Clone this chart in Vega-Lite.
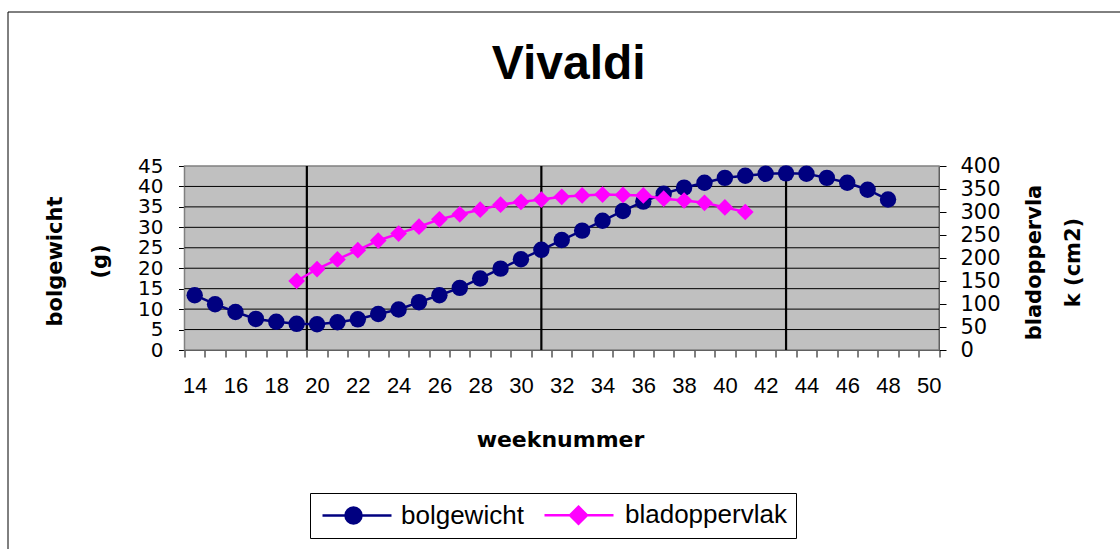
{
  "$schema": "https://vega.github.io/schema/vega-lite/v6.json",
  "width": 754.5,
  "height": 184,
  "autosize": {"type": "none"},
  "padding": {"left": 184.5, "top": 166, "right": 181, "bottom": 199},
  "background": "white",
  "config": {"view": {"stroke": null}, "font": "Liberation Sans"},
  "title": {"text": "Vivaldi", "font": "Liberation Sans", "fontSize": 48, "fontWeight": "bold", "color": "black", "anchor": "middle", "offset": -116, "baseline": "alphabetic", "dx": 7},
  "datasets": {
    "bolg": [
      {"week": 14, "gewicht": 13.4}, {"week": 15, "gewicht": 11.2}, {"week": 16, "gewicht": 9.3},
      {"week": 17, "gewicht": 7.6}, {"week": 18, "gewicht": 6.9}, {"week": 19, "gewicht": 6.4},
      {"week": 20, "gewicht": 6.3}, {"week": 21, "gewicht": 6.8}, {"week": 22, "gewicht": 7.5},
      {"week": 23, "gewicht": 8.8}, {"week": 24, "gewicht": 9.9}, {"week": 25, "gewicht": 11.7},
      {"week": 26, "gewicht": 13.4}, {"week": 27, "gewicht": 15.2}, {"week": 28, "gewicht": 17.5},
      {"week": 29, "gewicht": 19.9}, {"week": 30, "gewicht": 22.2}, {"week": 31, "gewicht": 24.5},
      {"week": 32, "gewicht": 26.9}, {"week": 33, "gewicht": 29.2}, {"week": 34, "gewicht": 31.6},
      {"week": 35, "gewicht": 34.0}, {"week": 36, "gewicht": 36.3}, {"week": 37, "gewicht": 38.2},
      {"week": 38, "gewicht": 39.7}, {"week": 39, "gewicht": 40.9}, {"week": 40, "gewicht": 42.1},
      {"week": 41, "gewicht": 42.6}, {"week": 42, "gewicht": 43.1}, {"week": 43, "gewicht": 43.2},
      {"week": 44, "gewicht": 43.1}, {"week": 45, "gewicht": 42.1}, {"week": 46, "gewicht": 40.9},
      {"week": 47, "gewicht": 39.2}, {"week": 48, "gewicht": 36.8}
    ],
    "blad": [
      {"week": 19, "oppervlak": 150}, {"week": 20, "oppervlak": 176}, {"week": 21, "oppervlak": 197},
      {"week": 22, "oppervlak": 217}, {"week": 23, "oppervlak": 238}, {"week": 24, "oppervlak": 253},
      {"week": 25, "oppervlak": 268}, {"week": 26, "oppervlak": 284}, {"week": 27, "oppervlak": 295},
      {"week": 28, "oppervlak": 305}, {"week": 29, "oppervlak": 316}, {"week": 30, "oppervlak": 322},
      {"week": 31, "oppervlak": 327}, {"week": 32, "oppervlak": 333}, {"week": 33, "oppervlak": 336},
      {"week": 34, "oppervlak": 338}, {"week": 35, "oppervlak": 337}, {"week": 36, "oppervlak": 336},
      {"week": 37, "oppervlak": 329}, {"week": 38, "oppervlak": 325}, {"week": 39, "oppervlak": 320},
      {"week": 40, "oppervlak": 310}, {"week": 41, "oppervlak": 300}
    ],
    "grid": [{"g": 5}, {"g": 10}, {"g": 15}, {"g": 20}, {"g": 25}, {"g": 30}, {"g": 35}, {"g": 40}],
    "markers": [{"week": 19.5}, {"week": 31}, {"week": 43}]
  },
  "layer": [
    {
      "layer": [
        {
          "data": {"values": [{}]},
          "mark": {"type": "rect", "stroke": "#808080", "strokeWidth": 1.5},
          "encoding": {
            "x": {
              "datum": 13.5, "type": "quantitative",
              "scale": {"domain": [13.5, 50.5], "nice": false, "zero": false},
              "axis": {
                "title": "weeknummer",
                "values": [13.5, 14, 14.5, 15, 15.5, 16, 16.5, 17, 17.5, 18, 18.5, 19, 19.5, 20, 20.5, 21, 21.5, 22, 22.5, 23, 23.5, 24, 24.5, 25, 25.5, 26, 26.5, 27, 27.5, 28, 28.5, 29, 29.5, 30, 30.5, 31, 31.5, 32, 32.5, 33, 33.5, 34, 34.5, 35, 35.5, 36, 36.5, 37, 37.5, 38, 38.5, 39, 39.5, 40, 40.5, 41, 41.5, 42, 42.5, 43, 43.5, 44, 44.5, 45, 45.5, 46, 46.5, 47, 47.5, 48, 48.5, 49, 49.5, 50, 50.5],
                "tickCount": 1000,
                "labelExpr": "datum.value % 2 === 0 ? '' + datum.value : ''",
                "tickOpacity": {"condition": {"test": "datum.value % 1 === 0", "value": 0}, "value": 1},
                "grid": false,
                "domainColor": "black", "domainWidth": 1,
                "tickColor": "black", "tickSize": 7, "tickWidth": 1,
                "labelFont": "Liberation Sans Narrow, Liberation Sans, sans-serif", "labelFontSize": 22, "labelColor": "black",
                "labelPadding": 18, "labelBaseline": "top", "labelOverlap": false, "labelFlush": false,
                "titleFont": "DejaVu Sans", "titleFontSize": 22, "titleFontWeight": "bold", "titleColor": "black",
                "titleX": 375.5, "titleY": 96, "titleBaseline": "alphabetic", "titleAlign": "center"
              }
            },
            "x2": {"datum": 50.5},
            "y": {
              "datum": 0, "type": "quantitative",
              "scale": {"domain": [0, 45], "nice": false, "zero": false},
              "axis": {
                "title": ["bolgewicht", "(g)"],
                "orient": "left",
                "values": [0, 5, 10, 15, 20, 25, 30, 35, 40, 45],
                "tickCount": 1000,
                "format": "d",
                "grid": false,
                "domainColor": "black", "tickColor": "black", "tickSize": 6, "tickWidth": 1,
                "labelFont": "DejaVu Sans", "labelFontSize": 20, "labelColor": "black",
                "labelPadding": 15.5, "labelOverlap": false, "labelFlush": false,
                "titleFont": "DejaVu Sans", "titleFontSize": 21, "titleFontWeight": "bold", "titleColor": "black",
                "titleAngle": 270, "titleAlign": "center", "titleBaseline": "alphabetic", "titleLineHeight": 45,
                "titleX": -123.5, "titleY": 95
              }
            },
            "y2": {"datum": 45},
            "color": {
              "datum": 0.5, "type": "quantitative",
              "scale": {"domain": [0, 1], "range": ["#C0C0C0", "#C0C0C0"]},
              "legend": {
                "type": "gradient", "title": null, "orient": "none", "legendX": -177, "legendY": -154.5,
                "direction": "horizontal", "gradientLength": 1200, "gradientThickness": 600,
                "gradientOpacity": 0, "gradientStrokeWidth": 0, "labelOpacity": 0, "labelExpr": "''",
                "padding": 0, "strokeColor": "black"
              }
            }
          }
        },
        {
          "data": {"name": "grid"},
          "mark": {"type": "rule", "color": "black", "strokeWidth": 1},
          "encoding": {
            "x": {"datum": 13.5, "type": "quantitative"},
            "x2": {"datum": 50.5},
            "y": {"field": "g", "type": "quantitative"}
          }
        },
        {
          "data": {"name": "markers"},
          "mark": {"type": "rule", "color": "black", "strokeWidth": 2.2},
          "encoding": {
            "x": {"field": "week", "type": "quantitative"},
            "y": {"datum": 0, "type": "quantitative"},
            "y2": {"datum": 45}
          }
        },
        {
          "data": {"name": "bolg"},
          "mark": {"type": "line", "color": "#000080", "strokeWidth": 2.5},
          "encoding": {
            "x": {"field": "week", "type": "quantitative"},
            "y": {"field": "gewicht", "type": "quantitative"}
          }
        },
        {
          "data": {"name": "bolg"},
          "mark": {"type": "point", "shape": "circle", "filled": true, "opacity": 1, "size": 270, "color": "#000080"},
          "encoding": {
            "x": {"field": "week", "type": "quantitative"},
            "y": {"field": "gewicht", "type": "quantitative"}
          }
        },
        {
          "data": {"values": []},
          "mark": {"type": "point", "filled": true, "opacity": 1, "strokeWidth": 2.5},
          "encoding": {
            "x": {"field": "week", "type": "quantitative"},
            "y": {"field": "gewicht", "type": "quantitative"},
            "fill": {
              "field": "series", "type": "nominal",
              "scale": {"domain": ["bolgewicht", "bladoppervlak"], "range": ["#000080", "#FF00FF"]},
              "legend": {
                "title": null, "orient": "none", "legendX": 125.5, "legendY": 327, "direction": "horizontal",
                "strokeColor": "black", "fillColor": "white", "padding": 9,
                "labelFont": "Liberation Sans", "labelFontSize": 26, "labelColor": "black", "labelOffset": 56, "labelLimit": 400,
                "symbolSize": 400, "columnPadding": 15, "symbolStrokeWidth": 2.5
              }
            },
            "stroke": {
              "field": "series", "type": "nominal",
              "scale": {"domain": ["bolgewicht", "bladoppervlak"], "range": ["#000080", "#FF00FF"]},
              "legend": {
                "title": null, "orient": "none", "legendX": 125.5, "legendY": 327, "direction": "horizontal",
                "strokeColor": "black", "fillColor": "white", "padding": 9,
                "labelFont": "Liberation Sans", "labelFontSize": 26, "labelColor": "black", "labelOffset": 56, "labelLimit": 400,
                "symbolSize": 400, "columnPadding": 15, "symbolStrokeWidth": 2.5
              }
            },
            "shape": {
              "field": "series", "type": "nominal",
              "scale": {"domain": ["bolgewicht", "bladoppervlak"], "range": ["M-0.95,0H5.95M2.95,0A0.8,0.8,0,1,1,1.35,0A0.8,0.8,0,1,1,2.95,0Z", "M-1.15,0H5.75M2.25,-0.85L3.1,0L2.25,0.85L1.4,0Z"]},
              "legend": {
                "title": null, "orient": "none", "legendX": 125.5, "legendY": 327, "direction": "horizontal",
                "strokeColor": "black", "fillColor": "white", "padding": 9,
                "labelFont": "Liberation Sans", "labelFontSize": 26, "labelColor": "black", "labelOffset": 56, "labelLimit": 400,
                "symbolSize": 400, "columnPadding": 15, "symbolStrokeWidth": 2.5
              }
            }
          }
        }
      ]
    },
    {
      "layer": [
        {
          "data": {"name": "blad"},
          "mark": {"type": "line", "color": "#FF00FF", "strokeWidth": 2.5},
          "encoding": {
            "x": {"field": "week", "type": "quantitative"},
            "y": {
              "field": "oppervlak", "type": "quantitative",
              "scale": {"domain": [0, 400], "nice": false, "zero": false},
              "axis": {
                "title": ["bladoppervla", "k (cm2)"],
                "orient": "right",
                "values": [0, 50, 100, 150, 200, 250, 300, 350, 400],
                "tickCount": 1000,
                "format": "d",
                "grid": false,
                "domainColor": "black", "tickColor": "black", "tickSize": 7, "tickWidth": 1,
                "labelFont": "DejaVu Sans", "labelFontSize": 21, "labelColor": "black",
                "labelPadding": 14, "labelOverlap": false, "labelFlush": false,
                "titleFont": "DejaVu Sans", "titleFontSize": 21, "titleFontWeight": "bold", "titleColor": "black",
                "titleAngle": 270, "titleAlign": "center", "titleBaseline": "alphabetic", "titleLineHeight": 39,
                "titleX": 101, "titleY": 96
              }
            }
          }
        },
        {
          "data": {"name": "blad"},
          "mark": {"type": "point", "shape": "diamond", "filled": true, "opacity": 1, "size": 280, "color": "#FF00FF"},
          "encoding": {
            "x": {"field": "week", "type": "quantitative"},
            "y": {"field": "oppervlak", "type": "quantitative"}
          }
        }
      ]
    }
  ],
  "resolve": {"scale": {"y": "independent"}}
}
